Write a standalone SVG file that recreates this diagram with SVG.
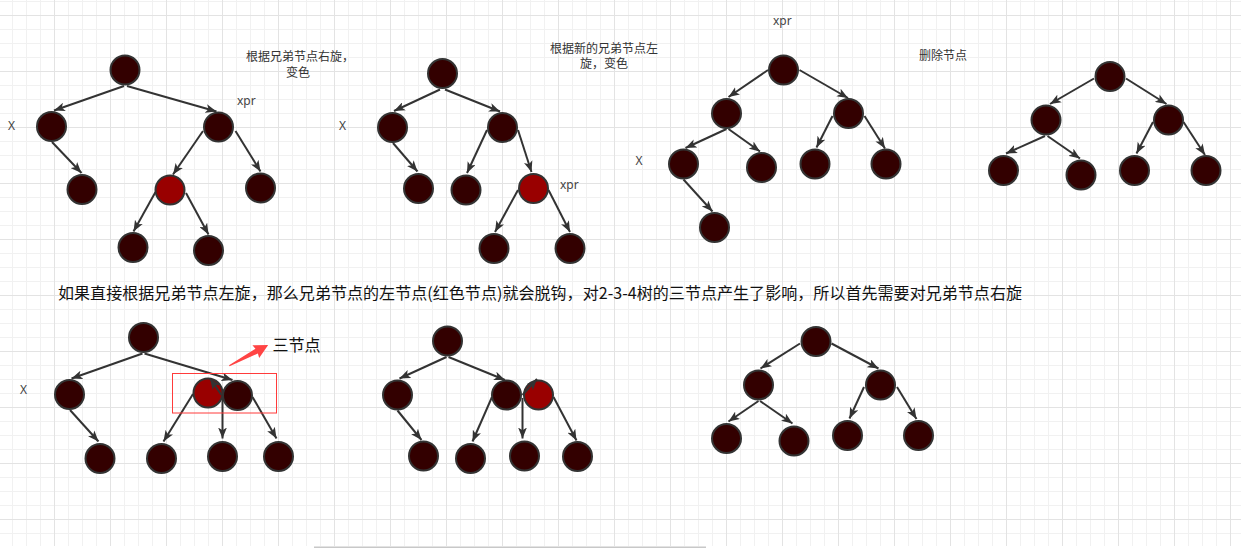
<svg xmlns="http://www.w3.org/2000/svg" width="1241" height="548" viewBox="0 0 1241 548">
<style>
.nd{fill:#330000;stroke:#333333;stroke-width:2}
.rd{fill:#990000;stroke:#333333;stroke-width:2}
.ed{stroke:#333333;stroke-width:2;fill:none;marker-end:url(#ah)}
.lb{font-family:"Noto Sans CJK SC","Noto Sans",sans-serif;font-size:12px;fill:#333333}
.lx{font-family:"Noto Sans","Noto Sans CJK SC",sans-serif;font-size:12px;fill:#444444}
.big{font-family:"Noto Sans CJK SC","Noto Sans",sans-serif;font-size:16px;fill:#111111}
</style>
<defs>
<pattern id="grid" patternUnits="userSpaceOnUse" x="-2" y="-41" width="56" height="56">
<rect x="14" y="0" width="1" height="56" fill="#f1f1f1"/>
<rect x="28" y="0" width="1" height="56" fill="#f1f1f1"/>
<rect x="42" y="0" width="1" height="56" fill="#f1f1f1"/>
<rect x="0" y="14" width="56" height="1" fill="#f1f1f1"/>
<rect x="0" y="28" width="56" height="1" fill="#f1f1f1"/>
<rect x="0" y="42" width="56" height="1" fill="#f1f1f1"/>
<rect x="0" y="0" width="1" height="56" fill="#e3e3e3"/>
<rect x="0" y="0" width="56" height="1" fill="#e3e3e3"/>
</pattern>
<marker id="ah" markerUnits="userSpaceOnUse" viewBox="0 0 10 8" refX="10" refY="4" markerWidth="11" markerHeight="9" orient="auto">
<path d="M0,0 L10,4 L0,8 L2.5,4 Z" fill="#333333"/>
</marker>
</defs>
<rect width="1241" height="548" fill="#ffffff"/>
<rect width="1241" height="546" fill="url(#grid)"/>
<rect x="314" y="546.5" width="392" height="1.5" fill="#c8c8c8"/>

<g id="tree1">
<circle class="nd" cx="125" cy="70" r="14.5"/>
<circle class="nd" cx="51.5" cy="126.5" r="14.5"/>
<circle class="nd" cx="218.5" cy="127" r="14.5"/>
<circle class="nd" cx="82" cy="189.5" r="14.5"/>
<circle class="rd" cx="170" cy="190" r="14.5"/>
<circle class="nd" cx="260.5" cy="188" r="14.5"/>
<circle class="nd" cx="133" cy="247.5" r="14.5"/>
<circle class="nd" cx="208.5" cy="250.5" r="14.5"/>
</g>
<g id="tree2">
<circle class="nd" cx="442.5" cy="73.5" r="14.5"/>
<circle class="nd" cx="392.5" cy="127.5" r="14.5"/>
<circle class="nd" cx="502.5" cy="127.5" r="14.5"/>
<circle class="nd" cx="418.5" cy="188.5" r="14.5"/>
<circle class="nd" cx="466" cy="190" r="14.5"/>
<circle class="rd" cx="533.5" cy="188.5" r="14.5"/>
<circle class="nd" cx="494" cy="248.5" r="14.5"/>
<circle class="nd" cx="570" cy="248.5" r="14.5"/>
</g>
<g id="tree3">
<circle class="nd" cx="783.5" cy="70" r="14.5"/>
<circle class="nd" cx="726.5" cy="113.5" r="14.5"/>
<circle class="nd" cx="848.5" cy="113.5" r="14.5"/>
<circle class="nd" cx="683.5" cy="164" r="14.5"/>
<circle class="nd" cx="761.5" cy="167.5" r="14.5"/>
<circle class="nd" cx="815" cy="164" r="14.5"/>
<circle class="nd" cx="886" cy="164" r="14.5"/>
<circle class="nd" cx="714.5" cy="227.5" r="14.5"/>
</g>
<g id="tree4">
<circle class="nd" cx="1110" cy="76.5" r="14.5"/>
<circle class="nd" cx="1046" cy="120" r="14.5"/>
<circle class="nd" cx="1168.5" cy="120" r="14.5"/>
<circle class="nd" cx="1003.5" cy="170.5" r="14.5"/>
<circle class="nd" cx="1081" cy="175" r="14.5"/>
<circle class="nd" cx="1134.5" cy="170.5" r="14.5"/>
<circle class="nd" cx="1206" cy="170.5" r="14.5"/>
</g>
<g id="tree5">
<circle class="nd" cx="143.5" cy="337.5" r="14.5"/>
<circle class="nd" cx="69.5" cy="394.5" r="14.5"/>
<circle class="rd" cx="208" cy="393" r="14.5"/>
<circle class="nd" cx="237.5" cy="395.5" r="14.5"/>
<circle class="nd" cx="100" cy="458.5" r="14.5"/>
<circle class="nd" cx="161.5" cy="458.5" r="14.5"/>
<circle class="nd" cx="222.5" cy="456.5" r="14.5"/>
<circle class="nd" cx="278.5" cy="456.5" r="14.5"/>
</g>
<g id="tree6">
<circle class="nd" cx="447.5" cy="341" r="14.5"/>
<circle class="nd" cx="397.5" cy="395" r="14.5"/>
<circle class="nd" cx="506.5" cy="395" r="14.5"/>
<circle class="rd" cx="538.5" cy="395" r="14.5"/>
<circle class="nd" cx="423.5" cy="456" r="14.5"/>
<circle class="nd" cx="470.5" cy="458.5" r="14.5"/>
<circle class="nd" cx="524.5" cy="456" r="14.5"/>
<circle class="nd" cx="577.5" cy="456.5" r="14.5"/>
</g>
<g id="tree7">
<circle class="nd" cx="816" cy="341.5" r="14.5"/>
<circle class="nd" cx="758.5" cy="385" r="14.5"/>
<circle class="nd" cx="880.5" cy="385" r="14.5"/>
<circle class="nd" cx="726.5" cy="438.5" r="14.5"/>
<circle class="nd" cx="794" cy="441" r="14.5"/>
<circle class="nd" cx="847.5" cy="435.5" r="14.5"/>
<circle class="nd" cx="918.5" cy="435.5" r="14.5"/>
</g>

<g id="connectors">
<path class="ed" d="M124,86 L54,110.5"/>
<path class="ed" d="M127,86 L216.5,111.5"/>
<path class="ed" d="M52,142 L81.5,173"/>
<path class="ed" d="M203,131 L173,174.5"/>
<path class="ed" d="M235.5,131 L260.5,171.5"/>
<path class="ed" d="M155.5,192 L133.5,231.5"/>
<path class="ed" d="M186,193 L208.5,234.5"/>

<path class="ed" d="M440,89.5 L394,111"/>
<path class="ed" d="M445,89.5 L500,111.5"/>
<path class="ed" d="M393,143 L417.5,171.5"/>
<path class="ed" d="M487,130 L467,173"/>
<path class="ed" d="M518,130 L531.5,172"/>
<path class="ed" d="M518,190 L495,232"/>
<path class="ed" d="M548.5,190 L570,232"/>

<path class="ed" d="M768,70 L728.5,97"/>
<path class="ed" d="M799.5,70 L848,98"/>
<path class="ed" d="M726.5,129 L685.5,148"/>
<path class="ed" d="M728.5,129 L760,151.5"/>
<path class="ed" d="M832.5,116 L816.5,147.5"/>
<path class="ed" d="M864.5,116 L885,148.5"/>
<path class="ed" d="M683.5,179.5 L712.5,211.5"/>

<path class="ed" d="M1094,78.5 L1050,104"/>
<path class="ed" d="M1126,78.5 L1166.5,104"/>
<path class="ed" d="M1045,136 L1006,153.5"/>
<path class="ed" d="M1047.5,136 L1080,158.5"/>
<path class="ed" d="M1153,122 L1136.5,153.5"/>
<path class="ed" d="M1183.5,122 L1205,155"/>

<path class="ed" d="M142.5,353.5 L71.5,378.5"/>
<path class="ed" d="M144.5,353.5 L232.5,380"/>
<path class="ed" d="M70,410 L98.5,441.5"/>
<path class="ed" d="M193,394 L163.5,441.5"/>
<path class="ed" d="M222.5,396 L222.5,438.5"/>
<path class="ed" d="M221.5,395 L210,378.5"/>
<path class="ed" d="M252.5,397 L276.5,438.5"/>

<path class="ed" d="M446.5,357 L399.5,378.5"/>
<path class="ed" d="M448.5,357 L505,380"/>
<path class="ed" d="M397.5,410.5 L421.5,440"/>
<path class="ed" d="M492,397 L472.5,441.5"/>
<path class="ed" d="M522.5,398 L522.5,438.5"/>
<path class="ed" d="M522.5,395 L537,379"/>
<path class="ed" d="M553.5,397 L576.5,440.5"/>

<path class="ed" d="M800,343.5 L760.5,368.5"/>
<path class="ed" d="M831.5,343.5 L878.5,368.5"/>
<path class="ed" d="M758.5,401 L728.5,421.5"/>
<path class="ed" d="M760,401 L792.5,423.5"/>
<path class="ed" d="M864,387 L849.5,418.5"/>
<path class="ed" d="M897,387 L916.5,419"/>
</g>

<g id="highlight">
<rect x="172.5" y="373.5" width="104" height="39.5" fill="none" stroke="#ff3b3b" stroke-width="1"/>
<polygon transform="translate(229.3,365.7) rotate(-27.96)" points="0,-0.6 31,-2.6 30,-7.2 44,0 30,7.2 31,2.6 0,0.6" fill="#ff4444"/>
</g>

<g id="labels">
<text class="lb" x="300" y="61.3" text-anchor="middle">根据兄弟节点右旋，</text>
<text class="lb" x="298" y="76.9" text-anchor="middle">变色</text>
<text class="lb" x="604" y="52.9" text-anchor="middle">根据新的兄弟节点左</text>
<text class="lb" x="604" y="67.9" text-anchor="middle">旋，变色</text>
<text class="lb" x="943" y="59.6" text-anchor="middle">删除节点</text>
<text class="lx" x="237" y="105">xpr</text>
<text class="lx" x="560" y="189">xpr</text>
<text class="lx" x="773" y="25">xpr</text>
<text class="lx" x="8" y="129.5">X</text>
<text class="lx" x="339" y="130.3">X</text>
<text class="lx" x="635.5" y="165.3">X</text>
<text class="lx" x="20" y="393.6">X</text>
<text class="big" x="58" y="298.5" textLength="964" lengthAdjust="spacing">如果直接根据兄弟节点左旋，那么兄弟节点的左节点(红色节点)就会脱钩，对2-3-4树的三节点产生了影响，所以首先需要对兄弟节点右旋</text>
<text class="big" x="272.5" y="351">三节点</text>
</g>
</svg>
